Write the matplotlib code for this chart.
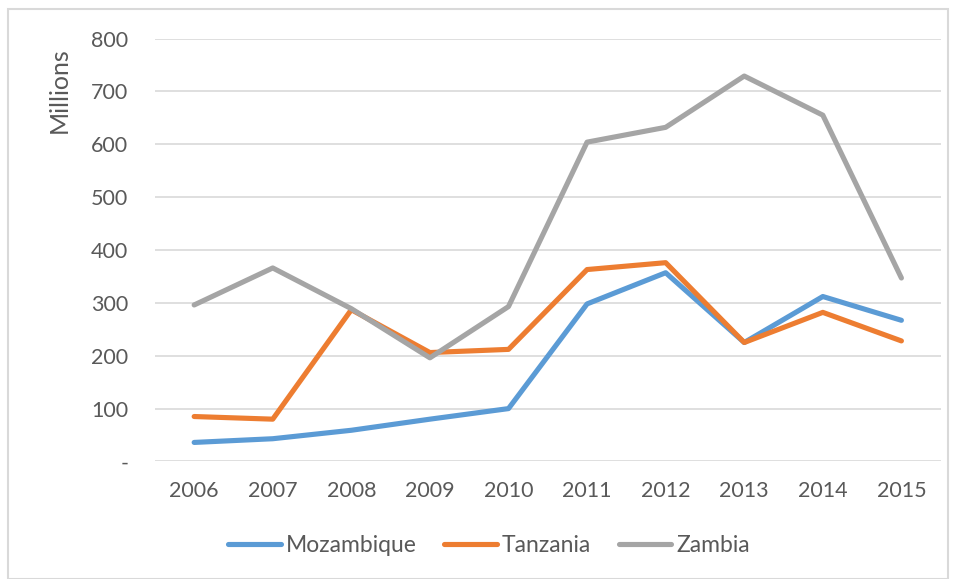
import matplotlib
matplotlib.use("Agg")
import matplotlib.pyplot as plt
from matplotlib.patches import Rectangle

years = ["2006", "2007", "2008", "2009", "2010", "2011", "2012", "2013", "2014", "2015"]
mozambique = [36, 43, 59, 80, 100, 298, 357, 225, 312, 267]
tanzania = [85, 80, 287, 206, 212, 363, 376, 225, 282, 228]
zambia = [296, 366, 289, 196, 293, 604, 632, 729, 655, 347]
series_names = ["Mozambique", "Tanzania", "Zambia"]
y_ticks = [0, 100, 200, 300, 400, 500, 600, 700, 800]
y_tick_labels = ["-", "100", "200", "300", "400", "500", "600", "700", "800"]

colors = ["#5B9BD5", "#ED7D31", "#A5A5A5"]
text_color = "#595959"
plt.rcParams['font.family'] = ['Lato', 'DejaVu Sans']

fig = plt.figure(figsize=(9.56, 5.79), dpi=100)
ax = fig.add_axes([0.162, 0.203, 0.822, 0.7305])

x = list(range(len(years)))
for vals, name, c in zip([mozambique, tanzania, zambia], series_names, colors):
    ax.plot(x, vals, color=c, lw=3.7, label=name, solid_joinstyle='round', solid_capstyle='round')

ax.set_xlim(-0.5, len(years) - 0.5)
ax.set_ylim(0, 800)
ax.set_yticks(y_ticks)
ax.set_yticklabels(y_tick_labels)
ax.set_xticks(x)
ax.set_xticklabels(years)
ax.grid(axis='y', color='#D9D9D9', lw=1.2)
ax.set_axisbelow(True)
for s in ax.spines.values():
    s.set_visible(False)
ax.tick_params(axis='y', length=0, pad=19, labelsize=15.5, labelcolor=text_color)
ax.tick_params(axis='x', length=0, pad=14, labelsize=15.5, labelcolor=text_color)

fig.text(59 / 956, 1 - 90 / 579, "Millions", rotation=90, ha='center', va='center',
         fontsize=18, color=text_color)

leg = fig.legend(loc='center', bbox_to_anchor=(489 / 956, 1 - 546 / 579), ncol=3, frameon=False,
                 fontsize=16.5, handlelength=2.3, handletextpad=0.22, columnspacing=1.2)
for t in leg.get_texts():
    t.set_color(text_color)

fig.patches.append(Rectangle((8 / 956, 0.0), 940 / 956, 1 - 9 / 579, transform=fig.transFigure,
                             fill=False, edgecolor='#D9D9D9', lw=1.5))

fig.savefig("out.png", dpi=100, facecolor='white')
